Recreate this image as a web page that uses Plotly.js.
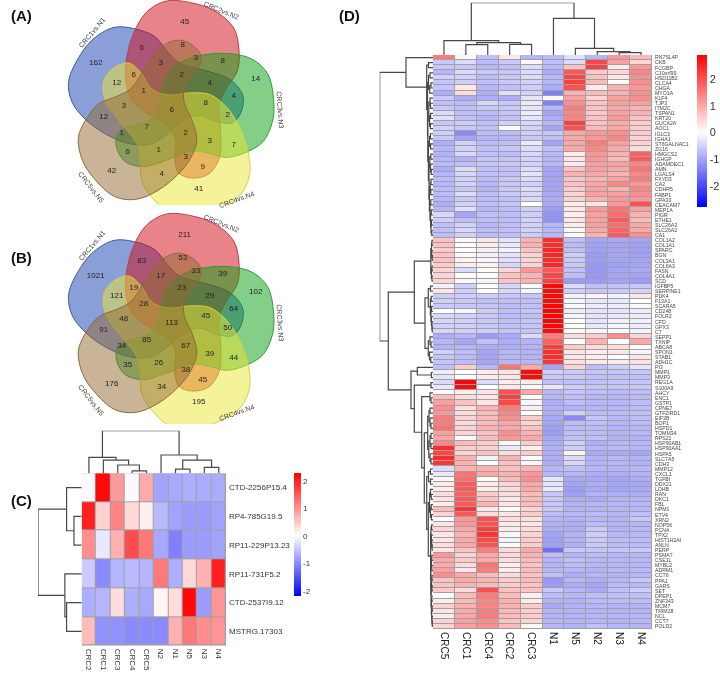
<!DOCTYPE html>
<html><head><meta charset="utf-8">
<script src="https://cdn.plot.ly/plotly-3.0.1.min.js"></script>
<style>html,body{margin:0;padding:0;background:#fff}#c{width:720px;height:675px;filter:blur(.35px)}</style>
</head><body><div id="c"></div>
<script>
// ---- Panel A / B: five-set Venn counts (same region order in both)
const vennNames = ['CRC1vs.N1','CRC2vs.N2','CRC3vs.N3','CRC4vs.N4','CRC5vs.N5'];
const vennACounts = [162,45,14,41,42,6,3,8,3,8,12,6,2,4,4,1,8,3,6,2,12,7,2,1,3,7,6,1,3,9,4];
const vennBCounts = [1021,211,102,195,176,83,17,53,33,39,121,19,23,29,64,28,45,48,113,50,91,85,67,34,39,44,35,26,38,45,34];
const regionX = [-76,13,84,27,-60,-30,-11,11,24,51,-55,-38,10,38,62,-28,34,-48,0,56,-68,-25,14,-50,38,62,-44,-13,14,31,-10];
const regionY = [-47,-88,-31,79,61,-62,-47,-65,-52,-49,-27,-35,-35,-27,-14,-19,-7,-4,0,5,7,17,23,23,31,35,42,40,47,57,64];
// one petal outline, in px round the Venn centre; the others are its rotations
const petalX = [-5,25,45,62,67,66,55,48,49,48,37,20,7,3,4,-5,-25,-40,-46,-45,-38,-25,-5];
const petalY = [-109,-106,-98,-82,-63,-40,-22,-7,23,47,64,68,63,47,30,15,3,-10,-30,-52,-77,-98,-109];
const petalFill = ['rgba(21,61,177,.5)','rgba(209,9,19,.5)','rgba(9,159,17,.5)','rgba(235,231,53,.5)','rgba(147,105,47,.5)'];
const petalLine = ['#3f55a5','#b5404a','#2f9a3a','#d8d040','#8c6a3f'];
const petalScale = [.98,1,.94,1,.95];

// ---- Panel C
const cCols = ['CRC2','CRC1','CRC3','CRC4','CRC5','N2','N1','N5','N3','N4'];
const cRows = ['CTD-2256P15.4','RP4-785G19.5','RP11-229P13.23','RP11-731F5.2','CTD-2537I9.12','MSTRG.17303'];
const cValues = [
 [-0.05,2.2,0.9,-0.05,0.75,-0.8,-0.75,-0.7,-0.72,-0.72],
 [2.0,0.4,1.1,0.35,0.15,-0.6,-0.8,-0.85,-0.85,-0.8],
 [1.0,-0.2,0.7,1.6,1.2,-0.75,-1.1,-0.85,-0.85,-0.8],
 [-0.45,-1.0,-0.65,-0.6,-0.65,1.2,-0.7,0.35,0.7,2.0],
 [-0.7,-0.65,0.3,-0.7,-0.75,0.1,0.3,2.2,-0.85,0.95],
 [0.6,-0.95,-0.95,-1,-1,-1,0.7,1.2,1.0,0.95]];
const cTopTree = [1,[.375,0,[.31,1,[.195,2,[.055,3,4]]]],[.43,5,[.31,[.10,6,7],[.14,8,9]]]];
const cLeftTree = [1,[.346,0,[.177,1,2]],[.385,3,[.346,4,5]]];

// ---- Panel D
const dCols = ['CRC5','CRC1','CRC4','CRC2','CRC3','N1','N5','N2','N3','N4'];
const dRows = ['RN7SL4P','CKB','FCGBP','C10orf99','HSD11B2','CLCA4','CHGA','MYO1A','KLF4','TJP3','ITM2C','TSPAN1','KRT20','GUCA2A','AOC1','IGLC3','IGHA1','ST6GALNAC1','ZG16','HMGCS2','IGHGP','ADAMDEC1','AMN','LGALS4','FXYD3','CA2','CDHR5','FABP1','GPA33','CEACAM7','MEP1A','PIGR','ETHE1','SLC26A3','SLC26A2','CA1',
'COL1A2','COL1A1','SPARC','BGN','COL3A1','COL6A3','FASN','COL4A1','SCD','IGFBP5','SERPINE1','PDK4','F13A1','SCARA5','CD248','FOLR2','CFD','GPX3','C7','SEPP1','TXNIP','ABCA8','SPON1','STAB1','ADH1C',
'PI3','MMP1','MMP3','REG1A','S100A9','AHCY','ENC1','GSTP1','CPNE7','GTF2IRD1','EIF3B','BOP1','HSPD1','TOMM34','RPS21','HSP90AB1','HSP90AA1','HSPA5','SLC7A5','CDH3','MMP12','CXCL1','TGFBI','DDX21','LDHB','RAN','DKC1','FBL','NPM1','ETV4','XRN2','NOP56','PCNA','TPX2','HIST1H2AI','ANLN','PERP','PSMA7','CSE1L','MYBL2','ADRM1','CCT6','PPA1','GARS','SET','DPEP1','ZNF343','MCM7','TRIM28','NCL','CCT7','POLD2'];
const dValues = [
[1.5,0.1,-0.7,0.3,-0.8,-0.75,-0.35,-0.8,1.2,0.8],
[-0.6,-0.4,-0.75,-0.6,0.1,-0.7,-0.4,2.1,1.1,0.45],
[-0.6,-0.6,-0.8,-0.7,-0.4,-0.8,0.7,2.2,0.25,1.2],
[-0.8,-0.4,-0.6,-0.6,-0.4,-0.9,1.9,0.6,0.5,1.4],
[-0.5,-0.5,-0.75,-0.6,-0.4,-0.8,2.1,0.7,0.3,1.3],
[-0.65,-0.55,-0.7,-0.6,-0.5,-0.8,2.2,0.8,0.0,1.3],
[-0.65,0.3,-0.8,-0.7,-0.55,-0.9,2.0,0.25,0.9,1.2],
[-0.9,0.4,-0.9,-0.35,-0.5,-1.4,0.9,0.8,0.9,1.3],
[-0.6,-0.9,-0.9,-0.9,-0.3,0.1,1.1,0.5,1.1,1.3],
[-0.7,-0.75,-0.45,-0.6,-0.25,-1.4,1.3,0.7,1.1,1.1],
[-0.6,-0.7,-0.6,-0.6,-0.3,-0.8,1.5,0.7,1.0,0.9],
[-0.4,-0.7,-0.75,-0.65,-0.2,-1.0,1.4,0.6,1.1,0.9],
[-0.35,-0.7,-0.8,-0.7,-0.3,-0.9,1.4,0.7,1.2,0.7],
[-0.6,-0.55,-0.7,-0.5,-0.45,-0.8,2.2,0.7,1.0,0.6],
[-0.5,-0.6,-0.7,-0.05,-0.5,-1.0,2.0,0.8,1.0,0.6],
[-0.55,-1.3,-0.75,-0.75,-0.55,-0.6,1.0,1.2,1.3,0.6],
[-0.6,-1.0,-0.8,-0.8,-0.6,-0.7,1.0,1.2,1.4,0.5],
[-0.9,-0.5,-0.75,-0.7,-0.25,-1.0,1.0,1.5,1.1,0.5],
[-0.8,-0.5,-0.7,-0.65,-0.4,-0.7,1.0,1.4,1.0,0.4],
[-0.85,-0.45,-0.7,-0.75,-0.45,-0.8,0.2,1.2,0.9,1.8],
[-0.8,-0.85,-0.65,-0.65,-0.5,-0.8,0.3,1.2,0.8,1.9],
[-0.75,-0.7,-0.65,-0.6,-0.5,-0.8,0.25,1.1,1.1,1.4],
[-0.9,-0.4,-0.7,-0.7,-0.4,-1.0,0.7,1.1,1.0,1.6],
[-0.8,-0.45,-0.7,-0.7,-0.3,-1.0,0.9,1.0,0.9,1.4],
[-0.75,-0.5,-0.75,-0.6,-0.4,-1.0,0.7,0.9,1.1,1.5],
[-0.8,-0.5,-0.8,-0.6,-0.5,-1.0,0.7,1.0,1.4,1.2],
[-0.75,-0.6,-0.85,-0.6,-0.4,-1.0,0.6,1.1,0.9,1.4],
[-0.75,-0.4,-0.75,-0.6,-0.45,-0.95,0.5,1.1,1.1,1.3],
[-0.8,-0.6,-0.75,-0.7,-0.45,-0.9,0.5,0.9,1.2,1.2],
[-0.9,-0.5,-0.7,-0.65,0.0,-0.95,0.2,0.3,1.2,2.0],
[-0.8,-0.35,-0.8,-0.75,-0.55,-1.1,0.3,1.2,1.6,1.1],
[-0.45,-1.0,-0.7,-0.75,-0.55,-1.2,0.2,1.1,1.7,0.9],
[-0.55,-0.7,-0.7,-0.7,-0.5,-1.2,0.3,1.1,1.9,0.8],
[-0.7,-0.5,-0.8,-0.7,-0.5,-0.8,0.2,1.1,1.7,1.0],
[-0.7,-0.45,-0.75,-0.7,-0.5,-0.8,0.1,1.0,1.8,1.0],
[-0.7,-0.5,-0.75,-0.7,-0.55,-0.8,-0.05,0.9,1.9,1.3],
[0.7,0.1,0.3,-0.3,0.9,2.4,-0.7,-1.0,-0.95,-1.0],
[0.7,0.05,0.2,-0.25,0.9,2.4,-0.75,-1.05,-1.0,-1.05],
[0.6,0.05,0.2,-0.15,0.7,2.5,-0.7,-1.05,-1.0,-1.05],
[0.7,0.1,-0.15,-0.3,0.5,2.5,-0.55,-1.1,-1.0,-1.05],
[0.7,0.15,-0.1,-0.35,0.5,2.4,-0.6,-1.1,-1.0,-1.0],
[0.6,0.2,0.15,-0.45,0.5,2.5,-0.6,-1.15,-1.05,-1.0],
[0.5,-0.4,0.05,0.5,1.2,1.9,-0.7,-1.15,-1.0,-0.95],
[0.5,0.05,0.05,0.7,0.9,2.1,-0.7,-1.15,-1.0,-1.0],
[0.5,0.1,-0.1,0.7,0.9,2.2,-1.1,-1.1,-1.0,-1.1],
[-0.15,-0.55,0.0,-0.45,0.0,2.8,-0.4,-0.7,-0.65,-0.6],
[0.3,-0.55,0.05,-0.45,-0.1,2.8,-0.55,-0.65,-0.6,-0.5],
[-0.55,-0.55,-0.55,-0.65,-0.65,2.8,-0.15,0.15,-0.15,0.3],
[-0.55,-0.6,-0.7,-0.7,-0.7,2.8,-0.1,-0.25,-0.25,0.0],
[-0.6,-0.6,-0.65,-0.75,-0.7,2.85,-0.05,-0.2,-0.2,0.1],
[0.0,-0.1,-0.55,-0.7,-0.65,2.85,-0.2,-0.3,-0.3,-0.2],
[-0.45,-0.5,-0.6,-0.75,-0.7,2.85,-0.1,-0.3,-0.25,-0.2],
[-0.45,-0.5,-0.6,-0.7,-0.65,2.85,0.0,-0.3,-0.15,-0.15],
[-0.5,-0.5,-0.6,-0.7,-0.65,2.85,0.0,-0.25,-0.1,-0.2],
[-0.45,-0.5,-0.55,-0.65,-0.65,2.8,0.1,-0.1,-0.05,-0.15],
[-0.9,-0.8,-1.1,-0.95,-0.4,1.5,0.4,0.6,1.3,0.5],
[-0.8,-1.0,-0.7,-0.9,-0.85,1.8,0.05,0.9,-0.05,1.0],
[-0.85,-0.8,-0.9,-0.9,-0.85,2.2,0.6,0.4,0.4,0.05],
[-0.5,-0.7,-1.0,-0.8,-0.85,2.4,0.3,0.2,0.3,-0.1],
[-0.65,-0.75,-1.0,-0.8,-0.85,2.4,0.3,0.2,-0.05,0.3],
[-0.65,-0.75,-1.0,-0.8,-0.8,2.3,0.35,0.25,0.25,0.35],
[-0.7,0.6,-0.8,1.6,1.0,-1.0,0.5,-0.75,-0.55,-0.3],
[-0.2,0.0,0.25,0.3,2.8,-0.55,-0.6,-0.65,-0.65,-0.65],
[-0.3,0.0,0.2,0.3,2.8,-0.6,-0.6,-0.7,-0.7,-0.7],
[-0.4,2.85,-0.4,0.2,0.2,-0.7,-0.7,-0.7,-0.65,-0.65],
[-0.25,2.8,0.0,0.25,0.1,-0.25,-0.55,-0.65,-0.65,-0.6],
[0.05,0.2,0.3,2.0,1.0,-0.8,-0.65,-0.7,-0.75,-0.7],
[0.8,0.4,0.3,2.2,0.05,-0.8,-0.7,-0.8,-0.8,-0.75],
[1.1,0.7,0.3,2.1,-0.1,-0.9,-0.75,-0.8,-0.8,-0.75],
[1.3,0.35,0.9,1.5,0.2,-0.85,-0.85,-0.8,-0.8,-0.75],
[1.2,0.4,0.8,1.4,0.05,-0.9,-0.5,-0.75,-0.75,-0.7],
[1.5,0.5,0.8,1.3,0.6,-0.95,-1.3,-0.65,-0.8,-0.75],
[1.5,0.4,0.8,1.0,0.5,-1.0,-0.75,-0.7,-0.8,-0.75],
[1.6,0.5,0.9,1.0,0.7,-1.05,-0.75,-0.75,-0.85,-0.8],
[1.1,0.5,0.7,1.3,0.9,-1.1,-0.7,-0.75,-0.85,-0.8],
[1.0,0.05,0.75,1.2,1.0,-0.95,-0.7,-0.7,-0.85,-0.85],
[1.4,0.8,0.6,0.1,0.6,-0.9,-0.55,-0.9,-0.8,-0.8],
[2.4,0.6,0.55,-0.25,0.2,-0.85,-0.55,-0.8,-0.75,-0.8],
[2.1,0.5,0.7,0.4,0.6,-0.9,0.15,-0.95,-0.95,-1.0],
[2.4,0.9,-0.15,0.9,-0.05,-0.9,-0.4,-0.85,-0.8,-0.85],
[2.3,0.9,0.0,0.7,-0.1,-0.9,-0.45,-0.85,-0.8,-0.85],
[-0.4,0.9,0.9,0.75,0.9,-0.8,-0.7,-0.8,-0.85,-0.8],
[-0.25,1.6,1.0,0.9,1.2,-0.8,-0.8,-0.9,-0.9,-0.85],
[0.1,1.7,0.05,0.8,1.3,-0.3,-0.95,-0.95,-1.0,-0.9],
[0.2,1.9,0.2,0.5,1.0,-0.3,-1.0,-0.9,-1.0,-0.95],
[0.2,1.9,0.2,0.4,1.0,-0.25,-1.1,-0.95,-1.0,-0.95],
[0.4,1.8,0.6,0.4,0.8,-0.6,-1.05,-0.85,-0.9,-0.9],
[0.3,1.9,0.7,0.3,0.8,-0.6,-0.9,-0.95,-0.85,-0.85],
[0.2,1.9,0.9,0.3,0.8,-0.6,-0.85,-0.8,-0.8,-0.8],
[0.8,2.3,0.3,0.05,0.5,-0.6,-0.85,-0.85,-0.8,-0.8],
[0.5,1.9,0.4,0.3,0.6,-0.75,-0.8,-0.75,-0.8,-0.7],
[0.0,1.2,2.0,0.4,0.35,-0.8,-0.85,-0.8,-0.85,-0.6],
[0.3,1.2,2.0,0.25,0.3,-0.85,-0.9,-0.75,-0.85,-0.8],
[0.5,1.0,2.2,0.25,0.4,-0.9,-0.9,-0.6,-0.85,-0.8],
[0.3,0.9,2.3,-0.1,0.5,-1.0,-0.85,-0.55,-0.8,-0.8],
[0.3,1.0,2.1,-0.15,0.6,-1.05,-0.85,-0.6,-0.75,-0.75],
[0.4,1.0,2.0,0.05,0.6,-1.05,-0.9,-0.6,-0.75,-0.75],
[0.3,0.7,1.5,0.4,1.0,-1.6,-0.6,-0.65,-0.65,-0.6],
[1.2,0.5,1.0,0.45,0.9,-0.7,-0.85,-0.75,-0.8,-0.8],
[1.0,0.6,1.0,0.4,0.8,-0.85,-0.7,-0.8,-0.8,-0.8],
[1.0,0.4,1.6,0.2,0.7,-0.85,-0.75,-0.8,-0.8,-0.8],
[1.1,0.3,1.5,0.2,0.8,-0.8,-0.8,-0.85,-0.8,-0.8],
[1.3,1.0,0.8,0.4,0.7,-0.7,-0.9,-0.8,-0.85,-0.8],
[0.7,1.0,0.9,0.6,0.8,-1.15,-0.8,-0.9,-0.8,-0.6],
[0.7,0.9,0.8,0.6,0.7,-1.1,-0.9,-1.0,-0.75,-0.8],
[0.6,0.4,2.0,0.7,0.7,-0.6,-0.8,-0.95,-0.7,-0.55],
[0.0,0.8,1.5,0.8,0.2,-0.75,-0.8,-0.75,-0.7,-0.7],
[0.2,0.8,1.4,0.9,0.2,-0.85,-0.85,-0.75,-0.75,-0.75],
[0.5,0.9,1.4,0.9,0.6,-0.95,-0.85,-0.8,-0.85,-0.85],
[0.3,1.0,1.5,0.8,0.6,-0.85,-0.85,-0.85,-0.85,-0.85],
[0.2,1.0,1.5,0.8,0.6,-0.85,-0.85,-0.8,-0.8,-0.8],
[0.5,1.1,1.3,0.7,0.5,-0.8,-0.85,-0.8,-0.85,-0.8],
[0.5,1.1,1.3,0.8,0.1,-0.8,-0.85,-0.7,-0.8,-0.8]];
const dTopTree = [1,[.274,0,[.236,[.197,1,2],[.204,3,4]]],[.70,5,[.127,6,[.064,7,[.045,8,9]]]]];
// [height, left, right]; a bare number is a row of the heatmap
const dLeftTree = [53.3,
 [27,0,[6.3,[4.5,1,2],[5.5,
   [4.5,[3,3,4],[3.3,[2,5,6],7]],
   [5.2,
    [4.2,[3,8,[2.5,9,10]],[3.4,[2.4,11,12],[2.6,13,14]]],
    [4.6,[3.6,[2.6,15,16],[2.4,17,18]],
     [4,[3.2,[2.2,19,20],[2.5,21,[1.8,22,23]]],
      [3.6,[2.8,[2,24,25],[2.2,26,27]],
       [3,[2.2,28,29],[2.4,[1.8,30,31],[2,[1.5,32,33],[1.2,34,35]]]]]]]]]]],
 [44.7,
  [18.7,
   [2.2,[1.5,[1,36,37],[1.2,38,[.8,39,40]]],[1.6,[1,41,42],[1,43,44]]],
   [8,
    [4.7,[2.5,45,46],[2.6,[1.8,47,48],[2,[1.4,49,50],[1.6,51,[1,52,[.8,53,54]]]]]],
    [4.7,[3,55,[2,56,57]],[3.5,58,[2.2,59,60]]]]],
  [22,
   [15.7,61,[1.6,62,63]],
   [18.7,
    [2,64,65],
    [11.3,
     [3,66,[2,67,68]],
     [8.7,
      [5.3,[4,[3,69,70],[3,71,[2,72,73]]],[4.2,[3,[2,74,75],[2,76,77]],[3,78,[2,79,80]]]],
      [6.3,
       [4.5,[2.5,81,82],[2.5,83,84]],
       [4.7,
        [3.5,[2.5,85,[1.8,86,87]],[2.6,[1.8,88,89],[1.6,90,91]]],
        [2.4,[2,[1.4,92,93],[1.6,94,[1.2,95,[.9,96,97]]]],
         [2.2,[1.6,[1.2,98,99],[1.2,100,101]],
          [1.9,[1.4,[1,102,103],[1,104,105]],
           [1.6,[1.2,106,107],[1.3,[.9,108,109],[1,110,[.7,111,112]]]]]]]]]]]]]]];

// ---- helpers
const W = 720, H = 675;
const dx = (a,b) => [a/W, b/W];
const dy = (a,b) => [1-b/H, 1-a/H];
const hidden = (o) => Object.assign({visible:false, fixedrange:true}, o);

function treeLines(tree){            // returns bracket polylines along (pos, height)
  const pos=[], ht=[];
  (function walk(n){
    if (typeof n === 'number') return [n,0];
    const [h,a,b] = n, A = walk(a), B = walk(b);
    pos.push(A[0],A[0],B[0],B[0],null); ht.push(A[1],h,h,B[1],null);
    return [(A[0]+B[0])/2,h];
  })(tree);
  return {pos,ht};
}
const dendroLine = {color:'#484848',width:1.2};
function topDendro(tree,xa,ya){const t=treeLines(tree);
  return {type:'scatter',mode:'lines',x:t.pos,y:t.ht,xaxis:xa,yaxis:ya,line:dendroLine,hoverinfo:'skip',showlegend:false};}
function leftDendro(tree,xa,ya){const t=treeLines(tree);
  return {type:'scatter',mode:'lines',x:t.ht,y:t.pos,xaxis:xa,yaxis:ya,line:dendroLine,hoverinfo:'skip',showlegend:false};}
function idx(a){return a.map((_,i)=>i);}
function blueWhiteRed(zmin,zmax){const w=-zmin/(zmax-zmin);return [[0,'#0000ff'],[w,'#ffffff'],[1,'#ff0000']];}
const cbTicks = {tickmode:'array',tickvals:[-2,-1,0,1,2],ticktext:['-2','-1','0','1','2'],ticks:'',outlinewidth:0,borderwidth:0,xanchor:'left',xpad:0,ypad:0,yanchor:'top',yref:'paper',lenmode:'pixels',thicknessmode:'pixels'};

const traces = [];
// Venn petals
function venn(xa,ya,counts){
  const rot=[-72,0,72,144,216];
  rot.forEach((deg,i)=>{
    const r=deg*Math.PI/180,c=Math.cos(r),s=Math.sin(r),f=petalScale[i];
    traces.push({type:'scatter',mode:'lines',xaxis:xa,yaxis:ya,fill:'toself',fillcolor:petalFill[i],
      x:petalX.map((px,k)=>f*(px*c-petalY[k]*s)), y:petalX.map((px,k)=>f*(px*s+petalY[k]*c)),
      line:{color:petalLine[i],width:1,shape:'spline',smoothing:1},hoverinfo:'skip',showlegend:false});
  });
  traces.push({type:'scatter',mode:'text',xaxis:xa,yaxis:ya,x:regionX,y:regionY,text:counts.map(String),
    textposition:'middle center',textfont:{family:'Liberation Sans, Arial, sans-serif',size:8,color:'#222'},hoverinfo:'skip',showlegend:false});
}
venn('x5','y5',vennACounts);
venn('x6','y6',vennBCounts);

// Panel C
traces.push({type:'heatmap',xaxis:'x',yaxis:'y',x:idx(cCols),y:idx(cRows),z:cValues,zmin:-2.2,zmax:2.28,
  colorscale:blueWhiteRed(-2.2,2.28),xgap:1,ygap:1,hoverinfo:'skip',
  colorbar:Object.assign({},cbTicks,{x:294.3/W,y:1-473.3/H,len:122.7,thickness:7.4,tickfont:{family:'Liberation Sans, Arial',size:8,color:'#333'}})});
traces.push(topDendro(cTopTree,'x','y2'));
traces.push(leftDendro(cLeftTree,'x2','y'));

// Panel D
traces.push({type:'heatmap',xaxis:'x3',yaxis:'y3',x:idx(dCols),y:idx(dRows),z:dValues,zmin:-2.8,zmax:2.9,
  colorscale:blueWhiteRed(-2.8,2.9),xgap:1,ygap:1,hoverinfo:'skip',
  colorbar:Object.assign({},cbTicks,{x:697/W,y:1-55/H,len:152,thickness:10,tickfont:{family:'Liberation Sans, Arial',size:11,color:'#333'}})});
traces.push(topDendro(dTopTree,'x3','y4'));
traces.push(leftDendro(dLeftTree,'x4','y3'));

const font = 'Liberation Sans, Arial, sans-serif';
const annotations = [];
function panelTag(t,x,y){annotations.push({text:'<b>'+t+'</b>',xref:'paper',yref:'paper',x:x/W,y:1-y/H,showarrow:false,xanchor:'center',yanchor:'middle',font:{family:font,size:15,color:'#111'}});}
panelTag('(A)',21,15);panelTag('(B)',21,257);panelTag('(C)',21,500);panelTag('(D)',349,15);
// Venn set names, placed round the Venn centre
const nameX=[-80,50,109,65,-80], nameY=[-78,-100,0,89,77], nameA=[-50,22,86,-20,52];
[['x5','y5'],['x6','y6']].forEach(([xa,ya])=>{
  vennNames.forEach((n,i)=>annotations.push({text:n,xref:xa,yref:ya,x:nameX[i],y:nameY[i],showarrow:false,textangle:nameA[i],xanchor:'center',yanchor:'middle',font:{family:font,size:7,color:'#444'}}));
});

const layout = {
  width:W,height:H,margin:{l:0,r:0,t:0,b:0},paper_bgcolor:'#fff',plot_bgcolor:'rgba(0,0,0,0)',showlegend:false,
  font:{family:font},annotations,
  shapes:[
    {type:'rect',layer:'below',xref:'x',yref:'y',x0:-.5,x1:9.5,y0:-.5,y1:5.5,fillcolor:'#a0a0a0',line:{width:0}},
    {type:'rect',layer:'below',xref:'x3',yref:'y3',x0:-.5,x1:9.5,y0:-.5,y1:112.5,fillcolor:'#a0a0a0',line:{width:0}}
  ],
  // Panel C
  xaxis:{domain:dx(81.7,226),range:[-.5,9.5],anchor:'y',tickmode:'array',tickvals:idx(cCols),ticktext:cCols,tickangle:90,ticks:'',showgrid:false,zeroline:false,showline:false,fixedrange:true,tickfont:{family:font,size:8,color:'#333'},ticklabelstandoff:2},
  yaxis:{domain:dy(473.3,645.7),range:[5.5,-.5],anchor:'x',side:'right',tickmode:'array',tickvals:idx(cRows),ticktext:cRows,ticks:'',showgrid:false,zeroline:false,showline:false,fixedrange:true,tickfont:{family:font,size:8,color:'#333'},ticklabelstandoff:2},
  xaxis2:hidden({domain:dx(38,81.7),range:[1,0],anchor:'y'}),
  yaxis2:hidden({domain:dy(430.7,473.3),range:[0,1],anchor:'x'}),
  // Panel D
  xaxis3:{domain:dx(433,652),range:[-.5,9.5],anchor:'y3',tickmode:'array',tickvals:idx(dCols),ticktext:dCols,tickangle:90,ticks:'',showgrid:false,zeroline:false,showline:false,fixedrange:true,tickfont:{family:font,size:10,color:'#222'},ticklabelstandoff:2},
  yaxis3:{domain:dy(55,629),range:[112.5,-.5],anchor:'x3',side:'right',tickmode:'array',tickvals:idx(dRows),ticktext:dRows,ticks:'',showgrid:false,zeroline:false,showline:false,fixedrange:true,tickfont:{family:font,size:5.2,color:'#444'},ticklabelstandoff:2},
  xaxis4:hidden({domain:dx(379.7,433),range:[53.3,0],anchor:'y3'}),
  yaxis4:hidden({domain:dy(2.7,55),range:[0,1],anchor:'x3'}),
  // Venns: 1 axis unit = 1 px, centred on each Venn; the bottom of the A frame clips its petal
  xaxis5:hidden({domain:dx(0,330),range:[-171.7,158.3],anchor:'y5'}),
  yaxis5:hidden({domain:dy(0,205),range:[95,-110],anchor:'x5'}),
  xaxis6:hidden({domain:dx(0,330),range:[-171.7,158.3],anchor:'y6'}),
  yaxis6:hidden({domain:dy(206,424),range:[101,-117],anchor:'x6'})
};
Plotly.newPlot('c',traces,layout,{displayModeBar:false,staticPlot:true});
</script></body></html>
